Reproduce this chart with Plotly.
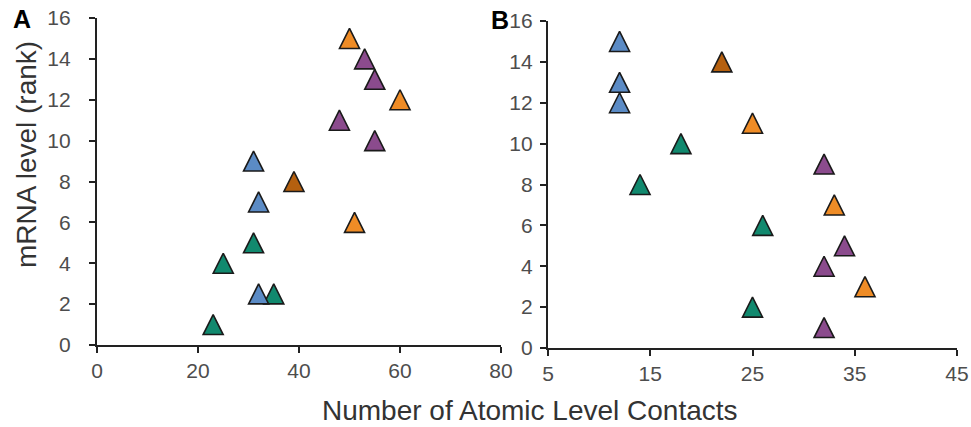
import plotly.graph_objects as go

# ---- data ----
colors = {
    "blue": "#5b8bc5",
    "teal": "#11896e",
    "orange": "#ef8c26",
    "brown": "#b5600f",
    "purple": "#8b4b8d",
}

a_blue_x = [31, 32, 32]
a_blue_y = [9, 7, 2.5]
a_teal_x = [31, 25, 35, 23]
a_teal_y = [5, 4, 2.5, 1]
a_orange_x = [50, 60, 51]
a_orange_y = [15, 12, 6]
a_brown_x = [39]
a_brown_y = [8]
a_purple_x = [53, 55, 48, 55]
a_purple_y = [14, 13, 11, 10]

b_blue_x = [12, 12, 12]
b_blue_y = [15, 13, 12]
b_teal_x = [18, 14, 26, 25]
b_teal_y = [10, 8, 6, 2]
b_orange_x = [25, 33, 36]
b_orange_y = [11, 7, 3]
b_brown_x = [22]
b_brown_y = [14]
b_purple_x = [32, 34, 32, 32]
b_purple_y = [9, 5, 4, 1]

a_xticks = [0, 20, 40, 60, 80]
b_xticks = [5, 15, 25, 35, 45]
y_ticks = [0, 2, 4, 6, 8, 10, 12, 14, 16]

x_title = "Number of Atomic Level Contacts"
y_title = "mRNA level (rank)"

# ---- figure ----
MS = 20
fig = go.Figure()


def add(xs, ys, color, xa, ya):
    fig.add_trace(go.Scatter(
        x=xs, y=ys, mode="markers", xaxis=xa, yaxis=ya,
        marker=dict(symbol="arrow-down", angle=180, size=MS, color=colors[color],
                    standoff=MS / 2,
                    line=dict(color="#1a1a1a", width=1.6)),
        cliponaxis=False, showlegend=False, hoverinfo="x+y",
    ))


add(a_teal_x, a_teal_y, "teal", "x", "y")
add(a_blue_x, a_blue_y, "blue", "x", "y")
add(a_brown_x, a_brown_y, "brown", "x", "y")
add(a_orange_x, a_orange_y, "orange", "x", "y")
add(a_purple_x, a_purple_y, "purple", "x", "y")

add(b_teal_x, b_teal_y, "teal", "x2", "y2")
add(b_blue_x, b_blue_y, "blue", "x2", "y2")
add(b_brown_x, b_brown_y, "brown", "x2", "y2")
add(b_orange_x, b_orange_y, "orange", "x2", "y2")
add(b_purple_x, b_purple_y, "purple", "x2", "y2")

W, H = 971, 427
tickfont = dict(family="Liberation Sans, Arial, sans-serif", size=21, color="#4d4d4d")
axis_common = dict(
    showline=True, linecolor="#222222", linewidth=2.2,
    ticks="outside", ticklen=6, tickwidth=2.2, tickcolor="#222222",
    showgrid=False, zeroline=False, tickfont=tickfont,
    fixedrange=True, automargin=False,
)

fig.update_layout(
    template="none",
    width=W, height=H,
    margin=dict(l=0, r=0, t=0, b=0),
    paper_bgcolor="white", plot_bgcolor="white",
    font=dict(family="Liberation Sans, Arial, sans-serif"),
    xaxis=dict(domain=[97 / W, 501 / W], range=[0, 80], tickvals=a_xticks,
               anchor="y", **axis_common),
    yaxis=dict(domain=[1 - 345 / H, 1 - 18 / H], range=[0, 16], tickvals=y_ticks,
               anchor="x", ticklabelstandoff=14, **axis_common),
    xaxis2=dict(domain=[548 / W, 957 / W], range=[5, 45], tickvals=b_xticks,
                anchor="y2", **axis_common),
    yaxis2=dict(domain=[1 - 348 / H, 1 - 21 / H], range=[0, 16], tickvals=y_ticks,
                anchor="x2", ticklabelstandoff=3, **axis_common),
    annotations=[
        dict(text=y_title, x=27 / W, y=1 - 155 / H, xref="paper", yref="paper",
             textangle=-90, showarrow=False, xanchor="center", yanchor="middle",
             font=dict(size=28, color="#333333")),
        dict(text=x_title, x=529.5 / W, y=1 - 410 / H, xref="paper", yref="paper",
             showarrow=False, xanchor="center", yanchor="middle",
             font=dict(size=28, color="#333333")),
        dict(text="<b>A</b>", x=22 / W, y=1 - 19 / H, xref="paper", yref="paper",
             showarrow=False, xanchor="center", yanchor="middle",
             font=dict(size=25, color="#000000")),
        dict(text="<b>B</b>", x=500 / W, y=1 - 20 / H, xref="paper", yref="paper",
             showarrow=False, xanchor="center", yanchor="middle",
             font=dict(size=25, color="#000000")),
    ],
)

fig.write_html(
    "out.html",
    config={"displayModeBar": False},
    post_script="document.body.style.margin='0px';document.body.style.overflow='hidden';",
)
